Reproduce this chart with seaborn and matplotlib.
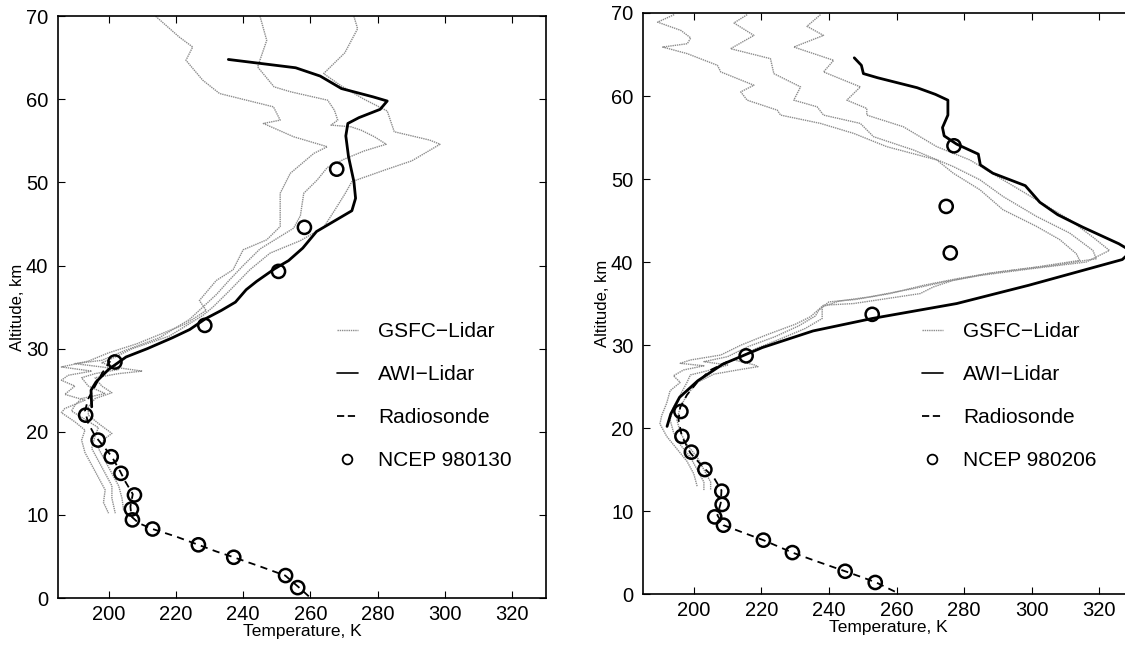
import numpy as np
import pandas as pd
import matplotlib
matplotlib.use("Agg")
import matplotlib.pyplot as plt
from matplotlib.lines import Line2D
import seaborn as sns

# ---- 980130 (left panel) ----
# GSFC lidar: three gray profiles (T in K, altitude in km)
gsfc1_a_T = [214, 221, 225, 223, 228, 233, 249, 251, 246, 255, 265, 261, 254, 251, 251, 247, 240, 237,
             232, 227, 229, 223, 208.5, 200, 194, 186, 195, 188, 186, 190, 187, 193, 187, 186, 190, 193,
             192, 193, 195, 197, 199, 198.5, 200]
gsfc1_a_z = [70, 67.5, 66.3, 64.7, 62.3, 60.7, 59.1, 57.5, 57.1, 55.5, 54.3, 53.5, 51.1, 48.7, 44.7, 43.1,
             41.9, 39.5, 38.2, 35.8, 34.6, 33, 30.6, 29.5, 28.5, 27.8, 27.3, 26.8, 26.2, 25.5, 24.5, 23.8,
             22.8, 22.3, 21.2, 20.2, 19, 17.5, 16, 14.5, 13, 11.5, 10.2]
gsfc1_b_T = [245, 247, 244.3, 249.2, 254.2, 265.1, 267.1, 268.1, 266.1, 272, 275, 279, 282.5, 276, 270,
             265, 262, 258, 257, 255, 251, 245, 240, 236, 232, 228, 224, 215, 205, 198, 190, 198, 203,
             196, 192, 194, 199, 192, 190, 189, 193, 197, 196, 195, 197, 199, 201, 201, 202]
gsfc1_b_z = [70, 67.1, 63.9, 61.5, 60.9, 59.9, 58.7, 57.5, 56.9, 56.7, 56.3, 55.5, 54.6, 53.8, 52.8, 51.8,
             50.3, 48.7, 46, 44.5, 43.5, 42, 40, 38.3, 36.5, 35, 33.5, 31.3, 29.8, 28.6, 28.2, 27.8, 27.5,
             27, 26.5, 25.5, 24.6, 24, 23.2, 22.5, 21.5, 20.5, 19.5, 18, 16.5, 15, 13.5, 12, 10.2]
gsfc1_c_T = [272.9, 274, 270.2, 263.9, 269.2, 276, 282.8, 284.9, 295.4, 298.5, 290.1, 282.8, 272.3, 270.2,
             267.1, 263.9, 257, 248, 242, 236, 231, 228, 218, 207, 202, 198, 203, 210, 203, 196, 198,
             201, 196, 194, 194, 197, 201, 199, 197, 199, 201, 203, 204, 204.5]
gsfc1_c_z = [70, 68.5, 65.6, 63.1, 61.6, 60, 58.6, 56.1, 55.1, 54.6, 52.6, 51.6, 50.1, 48.6, 46.6, 44.6,
             43, 41.5, 39.5, 37, 35, 34, 31.5, 30, 29, 28.3, 27.7, 27.3, 27, 26.5, 25.5, 24.7, 24, 23, 22,
             21, 19.8, 19.2, 18, 16.5, 15, 13.5, 12, 10.5]
awi1_T = [235.6, 255.6, 262.9, 269.2, 278.6, 282.8, 280.7, 274.4, 271.1, 270.5, 271.3, 272.9, 273.4,
          272.3, 268.1, 261.8, 257.7, 253.5, 249.3, 244, 240.9, 237.7, 233.5, 228.8, 224.1, 218.9,
          211.5, 205.2, 200, 196.3, 194.8, 195]
awi1_z = [64.8, 63.8, 62.8, 61.3, 60.3, 59.8, 58.8, 57.8, 57.1, 55.6, 53.1, 50.1, 48.1, 46.6, 45.6, 44.1,
          42.1, 40.6, 39.6, 38.1, 37.1, 35.6, 34.6, 33.6, 32.3, 31.3, 30, 29, 27.5, 26, 25, 23]
sonde1_T = [259.5, 256.5, 252.5, 245, 237.2, 232, 226.7, 220, 213.1, 209, 206.8, 206.5, 207.2, 205, 203.5,
            201, 198, 196, 194, 193, 194, 196, 198, 200.5]
sonde1_z = [0.2, 1.3, 2.7, 3.8, 4.9, 5.6, 6.4, 7.4, 8.3, 9.0, 9.8, 11, 12.5, 14, 15.2, 17, 18.5, 19.5, 21,
            22.5, 24, 25.5, 27, 28.5]
ncep1_T = [267.8, 258.2, 250.5, 228.6, 201.9, 193.2, 196.9, 200.8, 203.7, 207.7, 206.8, 207.1, 213.1,
           226.7, 237.2, 252.6, 256.2]
ncep1_z = [51.6, 44.6, 39.3, 32.8, 28.4, 22.0, 19.0, 17.0, 15.0, 12.4, 10.7, 9.4, 8.3, 6.4, 4.9, 2.7, 1.25]

# ---- 980206 (right panel) ----
gsfc2_a_T = [194.2, 189.3, 196.2, 199.1, 198.1, 190.8, 198.1, 207, 208, 217.8, 213.9, 215.8, 224.7,
             225.7, 237.5, 247.3, 257.1, 271.9, 276.8, 284.7, 291.5, 301.4, 308.3, 313.2, 314.2, 301.4,
             286.6, 276.8, 270.9, 267, 247.3, 238.4, 234.5, 230, 222, 214, 208, 199, 196, 203, 197, 194,
             196, 193, 192, 190.5, 190, 192, 195, 198, 200, 201]
gsfc2_a_z = [69.8, 68.9, 67.9, 67, 66.3, 65.9, 65.1, 63.7, 62.9, 61.3, 60.5, 59.5, 58.3, 57.7, 56.7, 55.5,
             53.9, 52.3, 50.7, 48.7, 46.3, 44.3, 42.7, 41, 40.2, 39.4, 38.6, 37.8, 37, 36.2, 35, 34.8,
             33.4, 32.5, 31.3, 30, 28.8, 28.2, 27.8, 27.5, 27, 26.3, 25.5, 24.5, 23, 21.5, 20.5, 19, 17.5,
             16, 14.5, 13]
gsfc2_b_T = [215.8, 211.9, 217.8, 210.9, 222.7, 223.7, 231.6, 229.6, 236.5, 238.4, 249.3, 253.2, 265,
             276.8, 284.7, 291.5, 301.4, 311.2, 318.1, 319.1, 306.3, 290, 278, 268, 258, 248, 240, 237,
             236, 231, 224, 216, 210, 203, 210, 205, 199, 198, 196, 194, 193, 194, 196, 199, 201, 203, 203]
gsfc2_b_z = [69.8, 68.8, 67.3, 65.7, 64.5, 62.7, 61.1, 59.5, 58.7, 57.7, 56.7, 55.1, 53.5, 51.5, 49.9,
             47.9, 45.5, 43.5, 41.4, 40.4, 39.6, 38.8, 38, 37.2, 36.2, 35.5, 35.2, 34.2, 33.5, 32.3, 31,
             29.8, 28.6, 28, 27.6, 27, 26.4, 25.5, 24, 22.5, 21, 19.5, 18, 16.5, 15, 13.5, 12.5]
gsfc2_c_T = [237.5, 233.5, 238.4, 229.6, 241.4, 238.4, 249.3, 245.3, 251.2, 251.2, 262, 271.9, 281.7,
             291.5, 301.4, 311.2, 318.1, 323, 316.1, 300, 285, 274, 265, 252, 243, 238, 238, 233, 226,
             218, 212, 218, 219, 213, 206, 201, 198, 196, 195, 196, 198, 201, 203, 205, 205]
gsfc2_c_z = [69.8, 68.4, 67.3, 65.9, 64.3, 62.9, 61.1, 59.5, 58.5, 57.7, 56.3, 53.9, 52.3, 49.9, 47.5,
             45.1, 43, 41.4, 40, 39.2, 38.4, 37.6, 36.8, 35.8, 35.3, 34.6, 33.2, 32, 30.8, 29.5, 28.2,
             27.6, 27.4, 27, 26.5, 25.5, 24, 22.5, 21, 19.5, 18, 16.5, 15, 13.5, 12.5]
awi2_T = [247.5, 249.6, 250.2, 254.4, 266.1, 271.5, 275.2, 275.2, 273.6, 274.1, 277.8, 284.2, 284.8,
          288.5, 298.1, 302.4, 307.7, 315.1, 325.8, 329.5, 326.8, 299.1, 277.8, 252.8, 235.3, 220.3,
          208.6, 201.2, 195.8, 193.2, 192.1]
awi2_z = [64.6, 63.7, 62.7, 62.2, 61, 60.2, 59.5, 57.7, 56.2, 55.2, 54.2, 53, 51.7, 50.7, 49.2, 47.2,
          45.7, 44.2, 42.2, 41.3, 40.3, 37.2, 35, 33.2, 31.7, 29.7, 27.7, 25.7, 23.7, 21.7, 20.2]
sonde2_T = [259.5, 254, 250, 244.8, 236, 229.2, 220.6, 214, 208.8, 207, 208, 208.2, 206, 203, 199, 196.5,
            195.5, 196, 198, 201, 205, 210]
sonde2_z = [0.3, 1.4, 2.0, 2.75, 4.0, 5.0, 6.5, 7.5, 8.3, 9.5, 11, 12.5, 14, 15.2, 17, 19, 21, 22.5, 24,
            25.5, 27, 28]
ncep2_T = [277.0, 274.7, 275.9, 252.8, 215.5, 196.2, 196.5, 199.3, 203.3, 208.3, 208.4, 206.2, 208.8,
           220.6, 229.2, 244.8, 253.7]
ncep2_z = [54.0, 46.7, 41.1, 33.7, 28.7, 22.0, 19.0, 17.1, 15.0, 12.4, 10.8, 9.3, 8.3, 6.5, 5.0, 2.75, 1.4]

panels = [
    dict(gsfc=[(gsfc1_a_T, gsfc1_a_z), (gsfc1_b_T, gsfc1_b_z), (gsfc1_c_T, gsfc1_c_z)],
         awi=(awi1_T, awi1_z), sonde=(sonde1_T, sonde1_z), ncep=(ncep1_T, ncep1_z),
         ncep_label="NCEP 980130"),
    dict(gsfc=[(gsfc2_a_T, gsfc2_a_z), (gsfc2_b_T, gsfc2_b_z), (gsfc2_c_T, gsfc2_c_z)],
         awi=(awi2_T, awi2_z), sonde=(sonde2_T, sonde2_z), ncep=(ncep2_T, ncep2_z),
         ncep_label="NCEP 980206"),
]

sns.set_style("ticks")
plt.rcParams["font.family"] = ["Liberation Sans", "DejaVu Sans"]
for key in ["text.color", "axes.labelcolor", "xtick.color", "ytick.color"]:
    plt.rcParams[key] = "black"

fig = plt.figure(figsize=(11.25, 6.5), dpi=100)
axes_rects = [[0.0516, 0.080, 0.4338, 0.895], [0.5716, 0.086, 0.4356, 0.894]]
legend_anchor = [(0.290, 0.520), (0.810, 0.520)]
gray = "0.55"

for rect, p, anchor in zip(axes_rects, panels, legend_anchor):
    ax = fig.add_axes(rect)
    for T, z in p["gsfc"]:
        sns.lineplot(x=T, y=z, ax=ax, sort=False, estimator=None, color=gray,
                     linewidth=1.0, linestyle=(0, (1, 0.6)))
    sns.lineplot(x=p["sonde"][0], y=p["sonde"][1], ax=ax, sort=False, estimator=None,
                 color="black", linewidth=1.3, linestyle=(0, (4, 3)))
    sns.lineplot(x=p["awi"][0], y=p["awi"][1], ax=ax, sort=False, estimator=None,
                 color="black", linewidth=2.0)
    sns.scatterplot(x=p["ncep"][0], y=p["ncep"][1], ax=ax, marker="o", s=90,
                    facecolor="none", edgecolor="black", linewidth=1.8, zorder=5)

    ax.set_xlim(185, 330)
    ax.set_ylim(0, 70)
    ax.set_xticks(range(200, 321, 20))
    ax.set_yticks(range(0, 71, 10))
    ax.tick_params(direction="in", top=True, right=True, length=5, labelsize=14.5, width=0.8)
    ax.tick_params(axis="x", pad=5)
    ax.tick_params(axis="y", pad=7)
    for s in ax.spines.values():
        s.set_linewidth(1.2)
        s.set_color("black")
    ax.set_xlabel("Temperature, K", fontsize=12.5, labelpad=0)
    ax.set_ylabel("Altitude, km", fontsize=12, labelpad=1)

    handles = [
        Line2D([], [], color=gray, linewidth=1.0, linestyle=(0, (1, 0.6))),
        Line2D([], [], color="black", linewidth=1.2),
        Line2D([], [], color="black", linewidth=1.3, linestyle=(0, (4, 2))),
        Line2D([], [], color="black", linestyle="none", marker="o", markersize=7,
               markerfacecolor="none", markeredgewidth=1.3),
    ]
    labels = ["GSFC\u2212Lidar", "AWI\u2212Lidar", "Radiosonde", p["ncep_label"]]
    ax.legend(handles, labels, loc="upper left", bbox_to_anchor=anchor,
              bbox_transform=fig.transFigure, frameon=False, fontsize=15,
              handlelength=1.0, handletextpad=1.0, labelspacing=1.15, borderpad=0)

fig.savefig("out.png", dpi=100)
